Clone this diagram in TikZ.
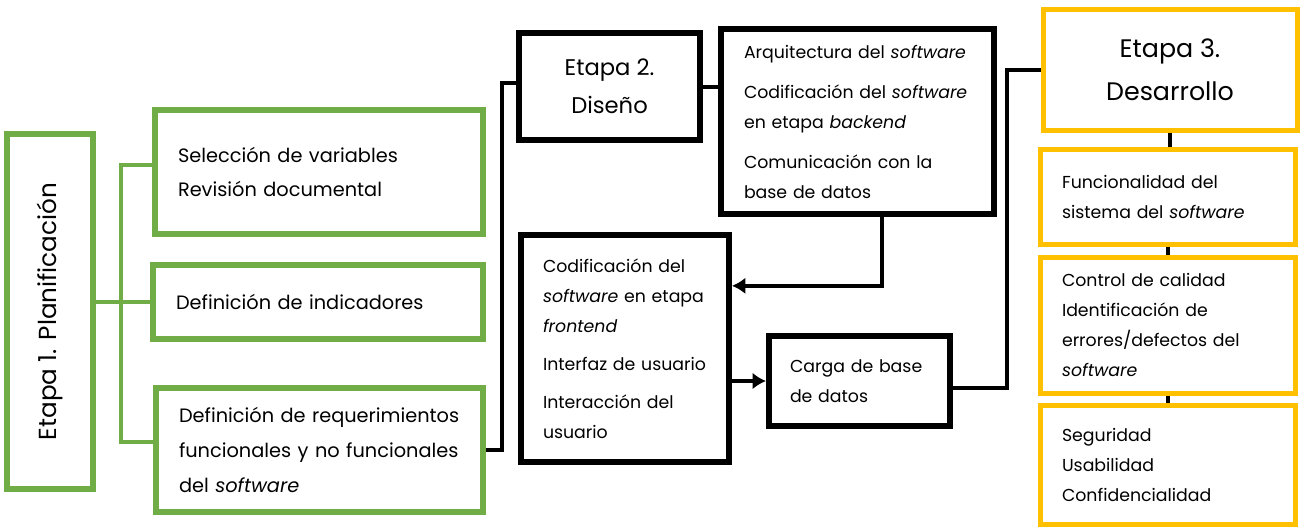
\documentclass[tikz,border=0pt]{standalone}
\usepackage{fontspec}
\setmainfont{Poppins}
\usepackage{graphicx}
\usetikzlibrary{arrows.meta}
\definecolor{planGreen}{HTML}{70AD47}
\definecolor{devGold}{HTML}{FFC000}
\tikzset{
    box/.style = {rectangle, inner sep = 0pt, align = left},
    planbox/.style = {box, draw = planGreen, line width = 4.5pt, font = \fontsize{14.5}{26}\selectfont},
    designbox/.style = {box, draw = black, line width = 4.5pt, font = \fontsize{13}{22.5}\selectfont},
    devbox/.style = {box, draw = devGold, line width = 3.75pt, font = \fontsize{13}{22.5}\selectfont},
    titlebox/.style = {align = center},
    link/.style = {draw = black, line width = 3pt},
    planlink/.style = {draw = planGreen, line width = 3.5pt}
}

\begin{document}
\begin{tikzpicture}[x = 0.75pt, y = -0.75pt,
                    >={Latex[length = 10pt, width = 12.5pt]}]
    \useasboundingbox (0,0) rectangle (1305,529);

    % Etapa 1: planning boxes
    \node [planbox, minimum width = 64.5pt, minimum height = 266.25pt, font = \fontsize{18.5}{22}\selectfont]
        (plan) at (50,311.5) {\rotatebox{90}{Etapa 1. Planificación}};
    \node [planbox, minimum width = 246pt, minimum height = 93pt, text width = 211.5pt]
        (variables) at (319,172) {Selección de variables\\Revisión documental};
    \node [planbox, minimum width = 247.5pt, minimum height = 55.5pt, text width = 213pt]
        (indicators) at (318,302) {Definición de indicadores};
    \node [planbox, minimum width = 245.25pt, minimum height = 93pt, text width = 210.75pt]
        (requirements) at (319.5,450) {Definición de requerimientos\\funcionales y no funcionales\\del \textit{software}};

    % Etapa 2: design boxes
    \node [designbox, titlebox, minimum width = 135.75pt, minimum height = 80.25pt, font = \fontsize{17}{28.5}\selectfont]
        (design) at (609.5,86.5) {Etapa 2.\\Diseño};
    \node [designbox, minimum width = 204.75pt, minimum height = 138.75pt, text width = 170.25pt]
        (backend) at (857.5,121.5) {Arquitectura del \textit{software}\\[7.5pt]
            Codificación del \textit{software}\\en etapa \textit{backend}\\[7.5pt]
            Comunicación con la\\base de datos};
    \node [designbox, minimum width = 156pt, minimum height = 170.25pt, text width = 123pt]
        (frontend) at (625,348.5) {Codificación del\\\textit{software} en etapa\\\textit{frontend}\\[6pt]
            Interfaz de usuario\\[6pt]
            Interacción del\\usuario};
    \node [designbox, minimum width = 135.75pt, minimum height = 67.5pt, text width = 104.25pt]
        (database) at (859.5,381) {Carga de base\\de datos};

    % Etapa 3: development boxes
    \node [devbox, titlebox, minimum width = 190.5pt, minimum height = 90.75pt, font = \fontsize{19}{32}\selectfont]
        (develop) at (1170,69.5) {Etapa 3.\\Desarrollo};
    \node [devbox, minimum width = 191.25pt, minimum height = 71.25pt, text width = 158.25pt]
        (function) at (1167.5,196.5) {Funcionalidad del\\sistema del \textit{software}};
    \node [devbox, minimum width = 191.25pt, minimum height = 102pt, text width = 158.25pt]
        (quality) at (1167.5,325) {Control de calidad\\Identificación de\\errores/defectos del\\\textit{software}};
    \node [devbox, minimum width = 191.25pt, minimum height = 89.25pt, text width = 158.25pt]
        (security) at (1167.5,464.5) {Seguridad\\Usabilidad\\Confidencialidad};

    % Connectors
    \coordinate (planSpine) at (121,0);
    \coordinate (designSpine) at (502,0);
    \coordinate (developSpine) at (1007,0);

    \draw [planlink] (plan.east |- indicators.west) -- (indicators.west);
    \draw [planlink] ([yshift = 5.25pt]variables.west) -- ([yshift = 5.25pt]variables.west -| planSpine)
        -- ([yshift = 6pt]requirements.west -| planSpine) -- ([yshift = 6pt]requirements.west);

    \draw [link] (requirements.east) -- (requirements.east -| designSpine) |- ([yshift = 2.6pt]design.west);
    \draw [link] (design.east) -- (design.east -| backend.west);
    \draw [link, ->] ([xshift = 18.4pt]backend.south) |- ([yshift = 47pt]frontend.east);
    \draw [link, ->] (frontend.east |- database.west) -- (database.west);
    \draw [link] ([yshift = -5.25pt]database.east) -- ([yshift = -5.25pt]database.east -| developSpine)
        |- (develop.west);

    \draw [link] (develop.south) -- (develop.south |- function.north);
    \draw [link] (function.south) -- (function.south |- quality.north);
    \draw [link] (quality.south) -- (quality.south |- security.north);
\end{tikzpicture}
\end{document}
